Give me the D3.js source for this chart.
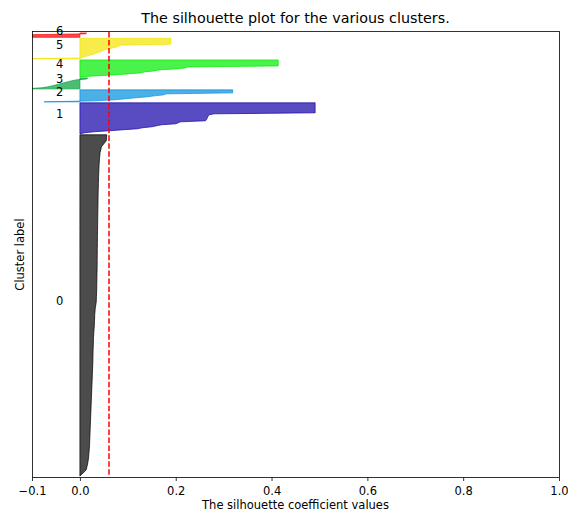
<html>
<head>
<script src="https://d3js.org/d3.v7.min.js"></script>
<style>
body { margin: 0; background: #ffffff; }
text { font-family: "DejaVu Sans", sans-serif; fill: #000000; }
</style>
</head>
<body>
<script type="text/javascript">

//Cluster ids, drawn from the bottom up.
var clusters = [0, 1, 2, 3, 4, 5, 6];
//Number of samples in each cluster.
var clusterSizes = [3420, 310, 120, 110, 170, 207, 43];
//nipy_spectral colour of each cluster.
var clusterColors = ["#000000", "#1300a8", "#008fdd", "#00a03a", "#00ec00", "#f3e400", "#fa0000"];

//Sorted silhouette values of each cluster (evenly spaced over the cluster, smallest first).
var silhouette0 = [0.0, 0.013, 0.016, 0.018, 0.019, 0.020, 0.0205, 0.021, 0.0215, 0.022,
                   0.0225, 0.023, 0.0235, 0.024, 0.0245, 0.025, 0.0255, 0.026, 0.0265, 0.027,
                   0.0272, 0.0275, 0.028, 0.0283, 0.029, 0.030, 0.0305, 0.031, 0.032, 0.034,
                   0.0345, 0.035, 0.0352, 0.0355, 0.0357, 0.036, 0.036, 0.0362, 0.0363, 0.0365,
                   0.0366, 0.0368, 0.037, 0.0372, 0.0374, 0.0376, 0.0378, 0.038, 0.0383, 0.0386,
                   0.039, 0.0395, 0.040, 0.041, 0.042, 0.045, 0.055, 0.056];
var silhouette1 = [0.0, 0.01, 0.03, 0.06, 0.09, 0.12, 0.13, 0.15, 0.16, 0.17,
                   0.20, 0.205, 0.21, 0.262, 0.264, 0.265, 0.266, 0.267, 0.268, 0.27,
                   0.28, 0.491, 0.491, 0.491, 0.491, 0.491, 0.491, 0.491, 0.491, 0.491,
                   0.491, 0.491];
var silhouette2 = [-0.075, 0.03, 0.07, 0.095, 0.115, 0.14, 0.155, 0.175, 0.18, 0.319,
                   0.319, 0.319, 0.319];
var silhouette3 = [-0.12, -0.08, -0.068, -0.058, -0.05, -0.042, -0.034, -0.026, -0.018, -0.008,
                   0.015, 0.016];
var silhouette4 = [0.0, 0.03, 0.07, 0.1, 0.125, 0.135, 0.155, 0.165, 0.2, 0.22,
                   0.225, 0.414, 0.414, 0.414, 0.414, 0.414, 0.414, 0.414];
var silhouette5 = [-0.15, 0.003, 0.008, 0.015, 0.022, 0.029, 0.035, 0.041, 0.046, 0.05,
                   0.058, 0.066, 0.075, 0.081, 0.084, 0.19, 0.19, 0.19, 0.19, 0.19,
                   0.19, 0.19];
var silhouette6 = [-0.2, -0.17, -0.14, -0.11, 0.012, 0.014];
var silhouetteValues = [silhouette0, silhouette1, silhouette2, silhouette3, silhouette4, silhouette5, silhouette6];

//Average silhouette score of all samples.
var silhouetteAvg = 0.0607;

//X axis ticks.
var xTicks = [-0.1, 0.0, 0.2, 0.4, 0.6, 0.8, 1.0];
var xTickLabels = ["\u22120.1", "0.0", "0.2", "0.4", "0.6", "0.8", "1.0"];

window.onload = function()
{
    var width = 568, height = 511;
    //Plot area.
    var left = 32, right = 559, top = 32, bottom = 477;
    //Space between clusters.
    var gap = 10;
    var yMax = d3.sum(clusterSizes) + (clusters.length + 1) * gap;
    var labelSize = "11.5px";

    var x = d3.scaleLinear().domain([-0.1, 1.0]).range([left, right]);
    var y = d3.scaleLinear().domain([0, yMax]).range([bottom, top]);

    var svg = d3.select("body").append("svg").attr("width", width).attr("height", height);

    svg.append("clipPath").attr("id", "plotClip")
        .append("rect").attr("x", left).attr("y", top)
        .attr("width", right - left).attr("height", bottom - top);

    var plot = svg.append("g").attr("clip-path", "url(#plotClip)");
    var labels = svg.append("g");

    //Draw each cluster as a filled band, stacked upwards.
    var yLower = gap;
    clusters.forEach(function(c, i)
    {
        var values = silhouetteValues[i];
        var size = clusterSizes[i];
        var n = values.length;
        var base = yLower;
        var area = d3.area()
            .y(function(d, j) { return y(base + size * j / (n - 1)); })
            .x0(x(0))
            .x1(function(d) { return x(d); });

        plot.append("path").datum(values)
            .attr("d", area)
            .attr("fill", clusterColors[i]).attr("fill-opacity", 0.7)
            .attr("stroke", clusterColors[i]).attr("stroke-opacity", 0.7)
            .attr("stroke-width", 1);

        //Cluster number in the middle of its band.
        labels.append("text")
            .attr("x", x(-0.05))
            .attr("y", y(base + 0.5 * size))
            .attr("font-size", labelSize)
            .text(c);

        yLower += size + gap;
    });

    //Average silhouette line.
    plot.append("line")
        .attr("x1", x(silhouetteAvg)).attr("x2", x(silhouetteAvg))
        .attr("y1", top).attr("y2", bottom)
        .attr("stroke", "red").attr("stroke-width", 1.5)
        .attr("stroke-dasharray", "5.55,2.4");

    //Frame.
    svg.append("rect")
        .attr("x", left + 0.5).attr("y", top - 0.5)
        .attr("width", right - left).attr("height", bottom - top + 1)
        .attr("fill", "none").attr("stroke", "#000000").attr("stroke-width", 0.8);

    svg.node().appendChild(labels.node());

    //X axis.
    var xAxis = svg.append("g")
        .attr("transform", "translate(0," + (bottom + 0.5) + ")")
        .call(d3.axisBottom(x).tickValues(xTicks)
            .tickFormat(function(d, i) { return xTickLabels[i]; })
            .tickSize(3.5));
    xAxis.select(".domain").remove();
    xAxis.attr("font-family", null).attr("font-size", null);
    xAxis.selectAll(".tick line").attr("stroke", "#000000").attr("stroke-width", 0.8);
    xAxis.selectAll(".tick text")
        .attr("y", 17.5).attr("dy", null)
        .attr("font-size", labelSize);

    //Title and axis labels.
    svg.append("text")
        .attr("x", (left + right) / 2).attr("y", 23)
        .attr("text-anchor", "middle").attr("font-size", "14.3px")
        .text("The silhouette plot for the various clusters.");

    svg.append("text")
        .attr("x", (left + right) / 2).attr("y", 508.5)
        .attr("text-anchor", "middle").attr("font-size", labelSize)
        .text("The silhouette coefficient values");

    svg.append("text")
        .attr("transform", "translate(24," + ((top + bottom) / 2) + ") rotate(-90)")
        .attr("text-anchor", "middle").attr("font-size", labelSize)
        .text("Cluster label");
}

</script>
</body>
</html>
